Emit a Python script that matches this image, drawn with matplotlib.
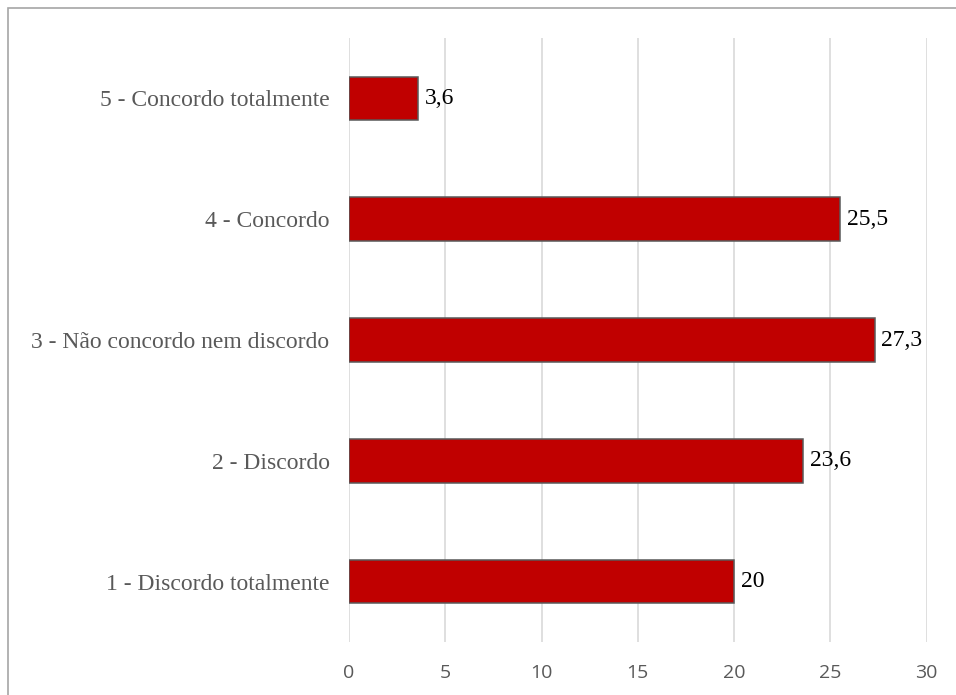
import matplotlib.pyplot as plt
from matplotlib.patches import Rectangle

categorias = ["1 - Discordo totalmente", "2 - Discordo", "3 - Não concordo nem discordo",
              "4 - Concordo", "5 - Concordo totalmente"]
percentuais = [20, 23.6, 27.3, 25.5, 3.6]
rotulos = ["20", "23,6", "27,3", "25,5", "3,6"]
x_ticks = [0, 5, 10, 15, 20, 25, 30]

W, H = 956, 695
fig = plt.figure(figsize=(W / 100, H / 100), dpi=100)
ax = fig.add_axes([349 / W, (H - 642) / H, (926.5 - 349) / W, (642 - 38) / H])

pos = range(len(categorias))
ax.barh(pos, percentuais, height=0.36, color="#C00000", edgecolor="#595959",
        linewidth=1.1, zorder=3)

for y, v, t in zip(pos, percentuais, rotulos):
    ax.annotate(t, (v, y), xytext=(5, 0), textcoords="offset points",
                va="center", ha="left", fontsize=17, family="Liberation Serif",
                color="black")

ax.set_xlim(0, 30)
ax.set_ylim(-0.5, len(categorias) - 0.5)
ax.set_xticks(x_ticks)
ax.set_xticklabels([str(t) for t in x_ticks], family="Open Sans", fontsize=14,
                   color="#595959")
ax.set_yticks(list(pos))
ax.set_yticklabels(categorias, family="Liberation Serif", fontsize=17,
                   color="#595959")
ax.tick_params(length=0)
ax.tick_params(axis="x", pad=16)
ax.tick_params(axis="y", pad=14)
ax.grid(axis="x", color="#d9d9d9", linewidth=1.2, zorder=0)
for s in ax.spines.values():
    s.set_visible(False)

# moldura cinza do gráfico
fig.patches.append(Rectangle((8 / W, -0.1), 1.2, (H - 8) / H + 0.1,
                             transform=fig.transFigure, fill=False,
                             edgecolor="#a6a6a6", linewidth=1.2))

fig.savefig("out.png", dpi=100)
